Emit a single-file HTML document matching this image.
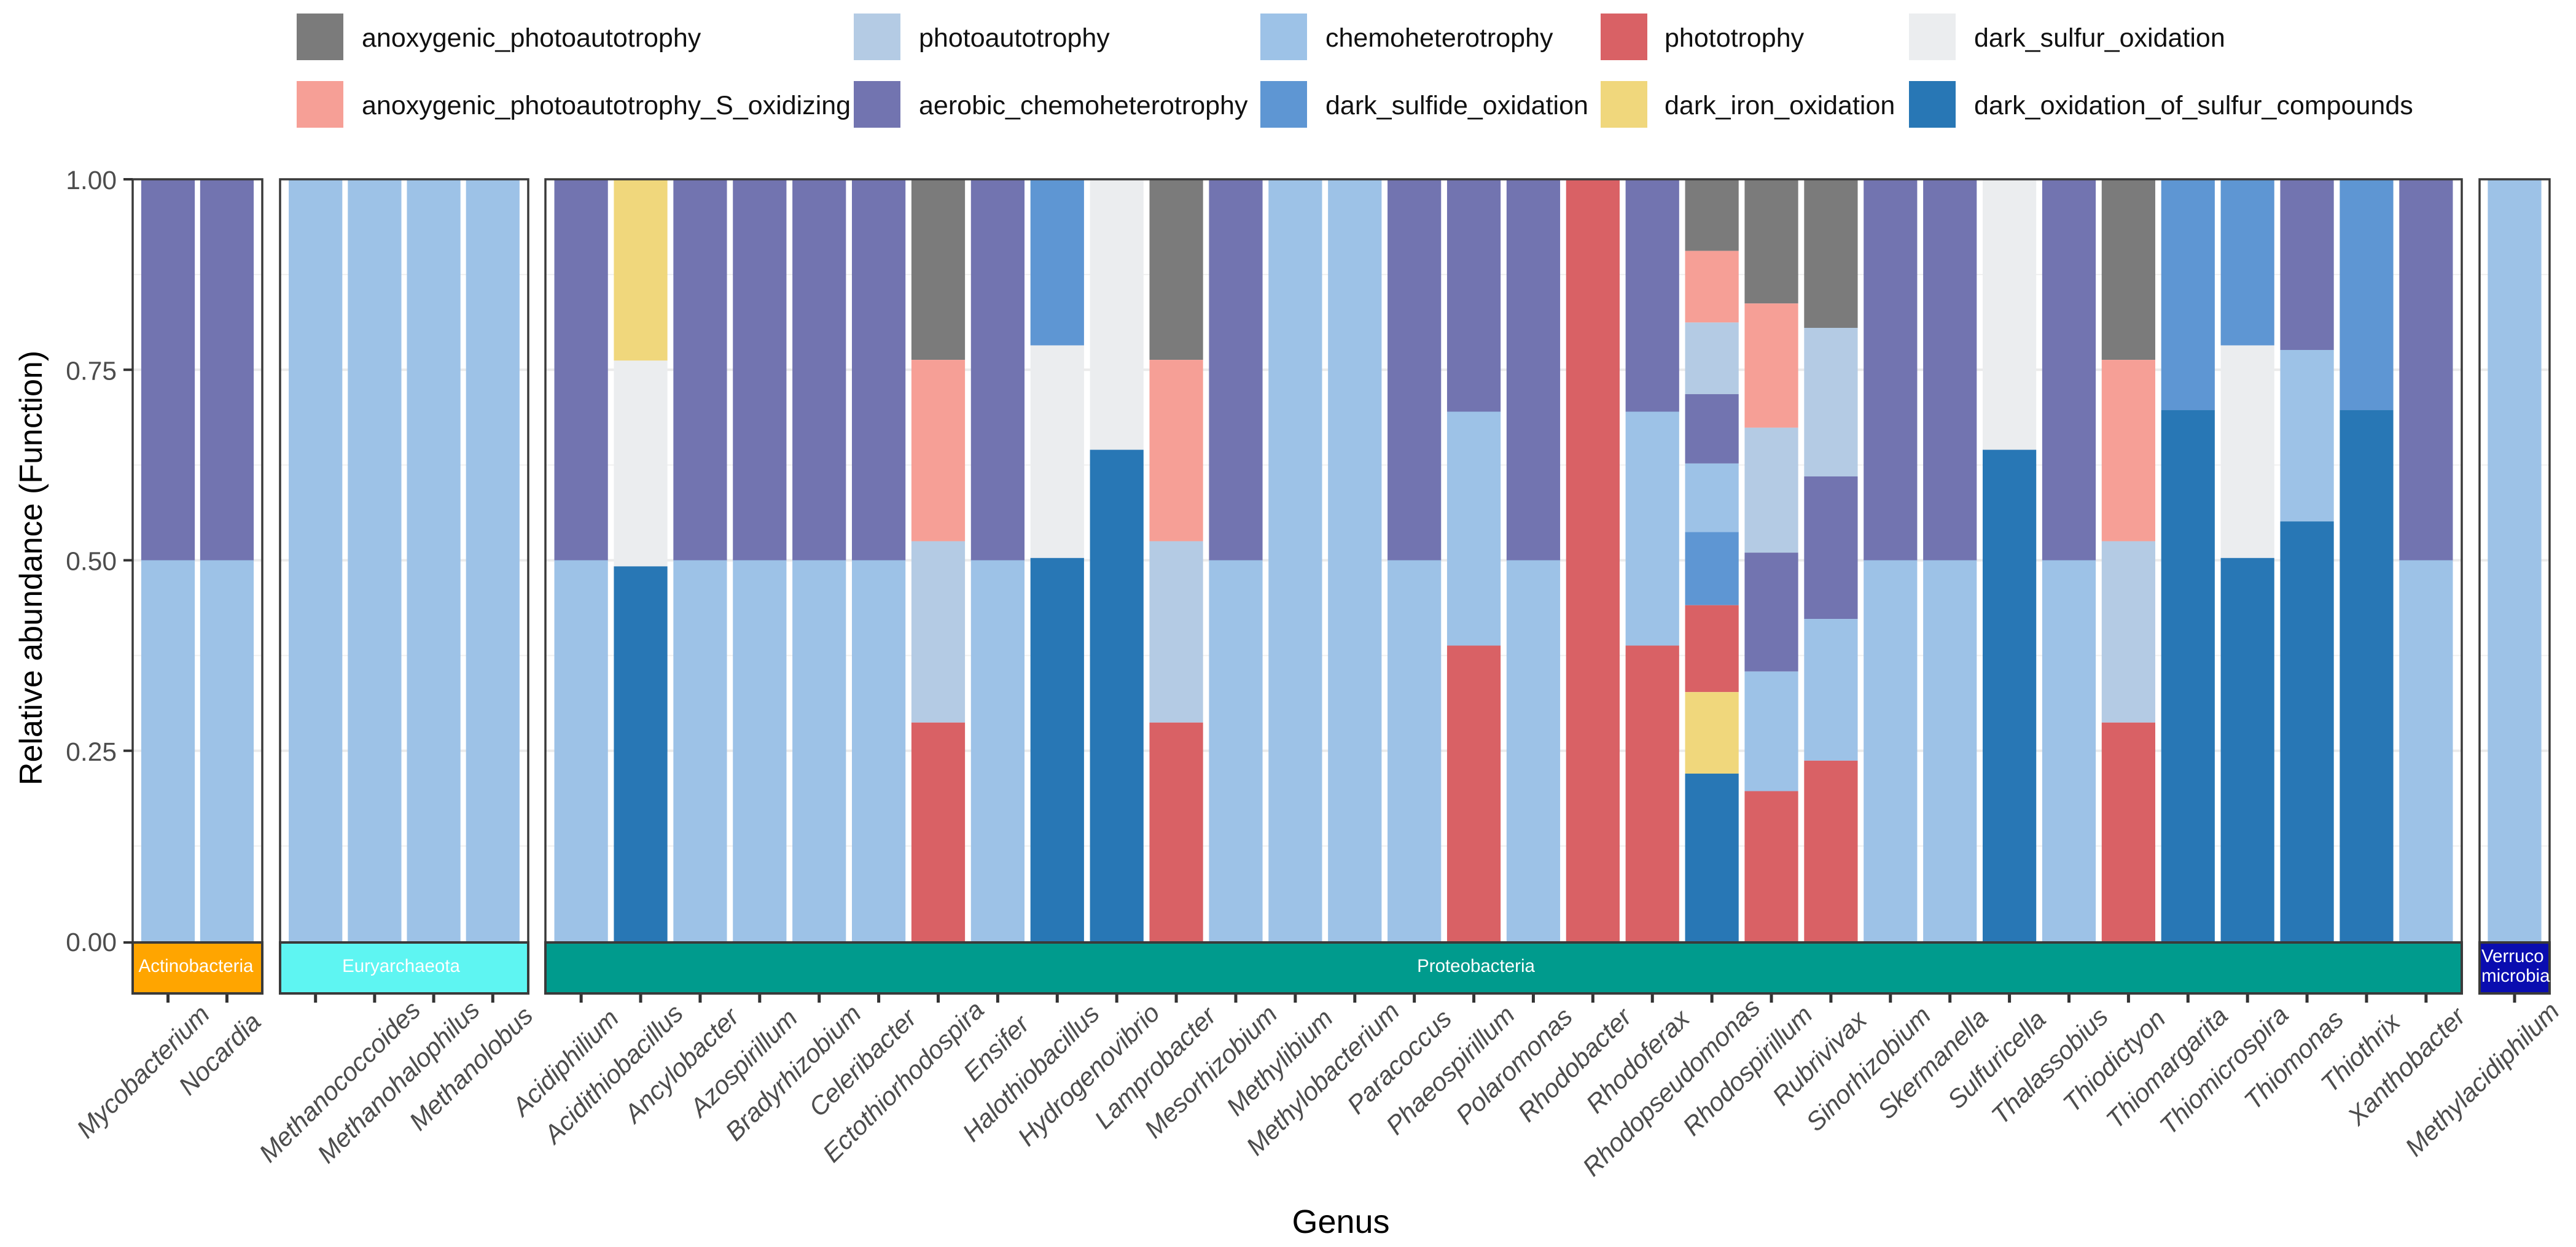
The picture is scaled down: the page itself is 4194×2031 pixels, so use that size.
<!DOCTYPE html>
<html lang="en">
<head>
<meta charset="utf-8">
<title>Relative abundance of function by genus</title>
<style>
html,body{margin:0;padding:0;background:#fff;}
svg{display:block;font-family:"Liberation Sans",Arial,sans-serif;}
</style>
</head>
<body>
<svg id="chart" xmlns="http://www.w3.org/2000/svg" width="4194" height="2031" viewBox="0 0 4194 2031">
<rect x="0" y="0" width="4194" height="2031" fill="#ffffff"/>
<g id="legend" font-size="43" fill="#111111">
<g><rect x="483" y="22" width="76" height="76" fill="#7b7b7b"/><text x="589" y="76">anoxygenic_photoautotrophy</text></g>
<g><rect x="483" y="132" width="76" height="76" fill="#f69f96"/><text x="589" y="186">anoxygenic_photoautotrophy_S_oxidizing</text></g>
<g><rect x="1390" y="22" width="76" height="76" fill="#b4cbe4"/><text x="1496" y="76">photoautotrophy</text></g>
<g><rect x="1390" y="132" width="76" height="76" fill="#7274b0"/><text x="1496" y="186">aerobic_chemoheterotrophy</text></g>
<g><rect x="2052" y="22" width="76" height="76" fill="#9dc2e7"/><text x="2158" y="76">chemoheterotrophy</text></g>
<g><rect x="2052" y="132" width="76" height="76" fill="#5e96d3"/><text x="2158" y="186">dark_sulfide_oxidation</text></g>
<g><rect x="2606" y="22" width="76" height="76" fill="#d96165"/><text x="2710" y="76">phototrophy</text></g>
<g><rect x="2606" y="132" width="76" height="76" fill="#f0d77c"/><text x="2710" y="186">dark_iron_oxidation</text></g>
<g><rect x="3108" y="22" width="76" height="76" fill="#ebedef"/><text x="3214" y="76">dark_sulfur_oxidation</text></g>
<g><rect x="3108" y="132" width="76" height="76" fill="#2877b5"/><text x="3214" y="186">dark_oxidation_of_sulfur_compounds</text></g>
</g>
<text transform="translate(68,925) rotate(-90)" text-anchor="middle" font-size="52" fill="#000000">Relative abundance (Function)</text>
<text x="2183" y="2008" text-anchor="middle" font-size="54" fill="#000000">Genus</text>
<g id="plot"></g>
</svg>
<script>
// Categories
const phyla = ["Actinobacteria", "Euryarchaeota", "Proteobacteria", "Verrucomicrobia"];
const phylumCounts = [2, 4, 32, 1];
const genera = ["Mycobacterium","Nocardia","","Methanococcoides","Methanohalophilus","Methanolobus",
"Acidiphilium","Acidithiobacillus","Ancylobacter","Azospirillum","Bradyrhizobium","Celeribacter","Ectothiorhodospira","Ensifer","Halothiobacillus","Hydrogenovibrio","Lamprobacter","Mesorhizobium","Methylibium","Methylobacterium","Paracoccus","Phaeospirillum","Polaromonas","Rhodobacter","Rhodoferax","Rhodopseudomonas","Rhodospirillum","Rubrivivax","Sinorhizobium","Skermanella","Sulfuricella","Thalassobius","Thiodictyon","Thiomargarita","Thiomicrospira","Thiomonas","Thiothrix","Xanthobacter",
"Methylacidiphilum"];
const yTicks = [0, 0.25, 0.5, 0.75, 1];
const yTickLabels = ["0.00", "0.25", "0.50", "0.75", "1.00"];
// Series values, one per genus, stacked top to bottom in this order
const anoxygenicPhotoautotrophy = [0,0, 0,0,0,0, 0,0,0,0,0,0,.237,0,0,0,.237,0,0,0,0,0,0,0,0,.094,.163,.195,0,0,0,0,.237,0,0,0,0,0, 0];
const anoxygenicSOxidizing = [0,0, 0,0,0,0, 0,0,0,0,0,0,.238,0,0,0,.238,0,0,0,0,0,0,0,0,.094,.163,0,0,0,0,0,.238,0,0,0,0,0, 0];
const photoautotrophy = [0,0, 0,0,0,0, 0,0,0,0,0,0,.238,0,0,0,.238,0,0,0,0,0,0,0,0,.094,.164,.195,0,0,0,0,.238,0,0,0,0,0, 0];
const aerobicChemoheterotrophy = [.5,.5, 0,0,0,0, .5,0,.5,.5,.5,.5,0,.5,0,0,0,.5,0,0,.5,.305,.5,0,.305,.091,.156,.187,.5,.5,0,.5,0,0,0,.224,0,.5, 0];
const chemoheterotrophy = [.5,.5, 1,1,1,1, .5,0,.5,.5,.5,.5,0,.5,0,0,0,.5,1,1,.5,.307,.5,0,.307,.09,.157,.186,.5,.5,0,.5,0,0,0,.225,0,.5, 1];
const darkSulfideOxidation = [0,0, 0,0,0,0, 0,0,0,0,0,0,0,0,.218,0,0,0,0,0,0,0,0,0,0,.096,0,0,0,0,0,0,0,.303,.218,0,.303,0, 0];
const phototrophy = [0,0, 0,0,0,0, 0,0,0,0,0,0,.287,0,0,0,.287,0,0,0,0,.388,0,1,.388,.114,.197,.237,0,0,0,0,.287,0,0,0,0,0, 0];
const darkIronOxidation = [0,0, 0,0,0,0, 0,.238,0,0,0,0,0,0,0,0,0,0,0,0,0,0,0,0,0,.107,0,0,0,0,0,0,0,0,0,0,0,0, 0];
const darkSulfurOxidation = [0,0, 0,0,0,0, 0,.27,0,0,0,0,0,0,.279,.355,0,0,0,0,0,0,0,0,0,0,0,0,0,0,.355,0,0,0,.279,0,0,0, 0];
const darkOxidationSulfur = [0,0, 0,0,0,0, 0,.492,0,0,0,0,0,0,.503,.645,0,0,0,0,0,0,0,0,0,.22,0,0,0,0,.645,0,0,.697,.503,.551,.697,0, 0];

const seriesList = [anoxygenicPhotoautotrophy, anoxygenicSOxidizing, photoautotrophy, aerobicChemoheterotrophy, chemoheterotrophy, darkSulfideOxidation, phototrophy, darkIronOxidation, darkSulfurOxidation, darkOxidationSulfur];
const seriesNames = ["anoxygenic-photoautotrophy","anoxygenic-s-oxidizing","photoautotrophy","aerobic-chemoheterotrophy","chemoheterotrophy","dark-sulfide-oxidation","phototrophy","dark-iron-oxidation","dark-sulfur-oxidation","dark-oxidation-of-sulfur"];
const seriesColors = ["#7b7b7b","#f69f96","#b4cbe4","#7274b0","#9dc2e7","#5e96d3","#d96165","#f0d77c","#ebedef","#2877b5"];
const stripColors = ["#ffa500","#5ef5f2","#009b8d","#0a0db0"];

const NS = "http://www.w3.org/2000/svg";
const plot = document.getElementById("plot");
const panelTop = 292, panelBottom = 1533, stripTop = 1535, stripBottom = 1618;
const unit = 96.9, barFrac = 0.9, pad = 0.6;
const panelLefts = [216, 456, 888, 4037];
const panelRights = [427, 860, 4008, 4151];
const stripTextX = [319, 653, 2403, 4040];

function yScale(v) { return panelBottom - v * (panelBottom - panelTop); }
function make(tag, attrs, parent) {
  const el = document.createElementNS(NS, tag);
  for (const k in attrs) el.setAttribute(k, attrs[k]);
  parent.appendChild(el);
  return el;
}

let genusIndex = 0;
phyla.forEach(function (phylum, p) {
  const left = panelLefts[p], right = panelRights[p];
  const panel = make("g", {}, plot);
  
  

  // Grid lines
  for (let t = 0; t < yTicks.length - 1; t++) {
    if (t > 0) {
      const major = make("line", { x1: left, x2: right, y1: yScale(yTicks[t]), y2: yScale(yTicks[t]), stroke: "#ebebeb", "stroke-width": 4 }, panel);
      
      
    }
    const midV = (yTicks[t] + yTicks[t + 1]) / 2;
    const minor = make("line", { x1: left, x2: right, y1: yScale(midV), y2: yScale(midV), stroke: "#f0f0f0", "stroke-width": 2 }, panel);
    
    
  }

  // Bars
  for (let i = 0; i < phylumCounts[p]; i++) {
    const cx = left + (pad + i) * (right - left) / (phylumCounts[p] - 1 + 2 * pad);
    const w = unit * barFrac;
    let top = 1;
    seriesList.forEach(function (values, s) {
      const v = values[genusIndex];
      if (!v) return;
      const bar = make("rect", { x: cx - w / 2, y: yScale(top), width: w, height: yScale(top - v) - yScale(top), fill: seriesColors[s] }, panel);
      
      
      top -= v;
    });

    // X tick
    const tick = make("line", { x1: cx, x2: cx, y1: stripBottom, y2: stripBottom + 15, stroke: "#333333", "stroke-width": 5 }, panel);
    
    

    // X label
    if (genera[genusIndex]) {
      const label = make("text", { transform: "translate(" + (cx + 40) + ",1685) rotate(-45)", "font-size": 42, "font-style": "italic", fill: "#4d4d4d" }, panel);
      label.textContent = genera[genusIndex];
      
      
      label.setAttribute("x", -0.85 * label.getComputedTextLength());
    }
    genusIndex++;
  }

  // Panel border
  const border = make("rect", { x: left, y: panelTop, width: right - left, height: stripTop - panelTop, fill: "none", stroke: "#3a3a3a", "stroke-width": 3.5 }, panel);
  
  

  // Strip
  const strip = make("rect", { x: left, y: stripTop, width: right - left, height: stripBottom - stripTop, fill: stripColors[p], stroke: "#3a3a3a", "stroke-width": 4 }, panel);
  
  
  const lines = phylum === "Verrucomicrobia" ? ["Verruco", "microbia"] : [phylum];
  lines.forEach(function (txt, j) {
    const baseY = lines.length === 1 ? 1583 : 1567 + j * 32;
    const anchor = lines.length === 1 ? "middle" : "start";
    const st = make("text", { x: stripTextX[p], y: baseY, "text-anchor": anchor, "font-size": 29.5, fill: "#ffffff" }, panel);
    st.textContent = txt;
    
    
  });
});

// Y axis
yTicks.forEach(function (v, i) {
  const ty = v === 0 ? stripTop : yScale(v);
  const t = make("line", { x1: 201, x2: 216, y1: ty, y2: ty, stroke: "#333333", "stroke-width": 4 }, plot);
  
  
  const l = make("text", { x: 190, y: yScale(v) + 16, "text-anchor": "end", "font-size": 42.5, fill: "#4d4d4d" }, plot);
  l.textContent = yTickLabels[i];
  
  
});
</script>
</body>
</html>
